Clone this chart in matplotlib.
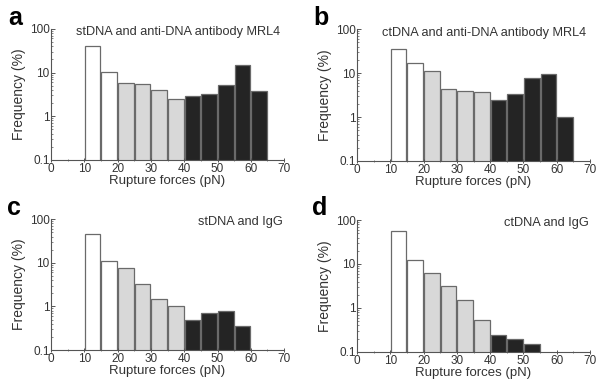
import matplotlib.pyplot as plt
import numpy as np
from matplotlib.ticker import MultipleLocator, FuncFormatter, LogLocator

plt.rcParams['font.family'] = ['Liberation Sans', 'DejaVu Sans']

# bin left edges (pN) and frequencies (%)
edges_a = [10, 15, 20, 25, 30, 35, 40, 45, 50, 55, 60]
freq_a = [40.5, 10.4, 5.8, 5.5, 4.0, 2.5, 2.9, 3.3, 5.3, 14.8, 3.7]

edges_b = [10, 15, 20, 25, 30, 35, 40, 45, 50, 55, 60]
freq_b = [34.5, 16.5, 11.2, 4.3, 3.95, 3.7, 2.4, 3.3, 7.8, 9.3, 1.0]

edges_c = [10, 15, 20, 25, 30, 35, 40, 45, 50, 55]
freq_c = [45, 11.2, 7.5, 3.3, 1.48, 1.04, 0.48, 0.72, 0.78, 0.355]

edges_d = [10, 15, 20, 25, 30, 35, 40, 45, 50]
freq_d = [57, 12.5, 6.1, 3.2, 1.5, 0.52, 0.24, 0.197, 0.155]

titles = ["stDNA and anti-DNA antibody MRL4", "ctDNA and anti-DNA antibody MRL4",
          "stDNA and IgG", "ctDNA and IgG"]
letters = ["a", "b", "c", "d"]


def bar_color(x):
    if x < 20:
        return "white"
    elif x < 40:
        return "#d8d8d8"
    return "#242424"


fig = plt.figure(figsize=(6.04, 3.87), dpi=100)

boxes = [[0.0844, 0.5866, 0.386, 0.339],
         [0.591, 0.5840, 0.386, 0.341],
         [0.0844, 0.0956, 0.386, 0.338],
         [0.591, 0.0905, 0.386, 0.341]]
letter_pos = [(0.014, 0.953), (0.519, 0.953), (0.011, 0.462), (0.516, 0.462)]

data = [(edges_a, freq_a), (edges_b, freq_b), (edges_c, freq_c), (edges_d, freq_d)]

for i, (edges, freq) in enumerate(data):
    ax = fig.add_axes(boxes[i])
    cols = [bar_color(e) for e in edges]
    ax.bar(np.array(edges) + 0.15, freq, width=4.7, align='edge', log=True,
           color=cols, edgecolor="#6a6a6a", linewidth=0.9)
    ax.set_ylim(0.1, 100)
    ax.set_xlim(0, 70)
    ax.spines['top'].set_visible(False)
    ax.spines['right'].set_visible(False)
    for s in ['left', 'bottom']:
        ax.spines[s].set_color("#555555")
        ax.spines[s].set_linewidth(0.8)
    ax.xaxis.set_major_locator(MultipleLocator(10))
    ax.xaxis.set_minor_locator(MultipleLocator(5))
    ax.yaxis.set_major_locator(LogLocator(base=10, numticks=5))
    ax.yaxis.set_minor_locator(LogLocator(base=10, subs=np.arange(2, 10), numticks=10))
    ax.yaxis.set_major_formatter(FuncFormatter(lambda v, p: "%g" % v))
    ax.tick_params(which='both', direction='in', colors="#555555", labelcolor="#333333",
                   labelsize=8.5, pad=1)
    ax.tick_params(which='major', length=3, width=0.7)
    ax.tick_params(which='minor', length=1.5, width=0.5)
    ax.tick_params(axis='x', which='both', direction='inout')
    ax.set_xlabel("Rupture forces (pN)", fontsize=9.5, color="#333333", labelpad=0)
    ax.set_ylabel("Frequency (%)", fontsize=10, color="#333333", labelpad=3)
    if i < 2:
        ax.text(0.545, 0.972, titles[i], transform=ax.transAxes, ha='center', va='center',
                fontsize=9.2, color="#333333")
    else:
        ax.text(0.995, 0.975, titles[i], transform=ax.transAxes, ha='right', va='center',
                fontsize=9.2, color="#333333")
    fig.text(letter_pos[i][0], letter_pos[i][1], letters[i],
             fontsize=18, fontweight='bold', ha='left', va='center')

plt.savefig("out.png", dpi=100)
